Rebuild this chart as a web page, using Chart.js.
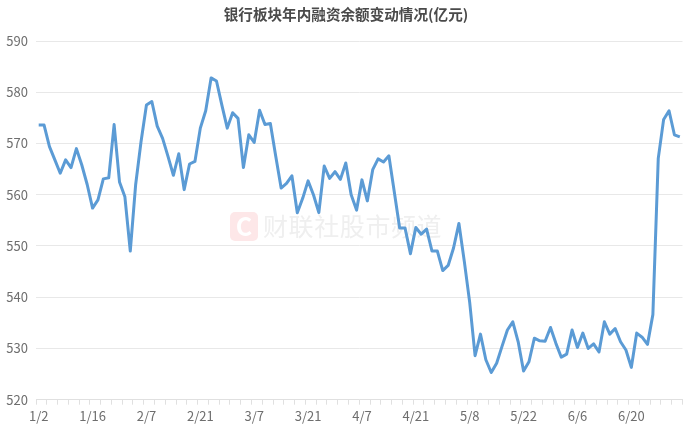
<!DOCTYPE html>
<html lang="zh-CN">
<head>
    <meta charset="UTF-8">
    <title>银行板块年内融资余额变动情况</title>
    <script src="https://cdn.jsdelivr.net/npm/chart.js"></script>
    <style>
        html, body { margin: 0; padding: 0; background: #fff; }
        canvas { display: block; }
    </style>
</head>
<body>
    <canvas id="grafico" width="692" height="429"></canvas>
    <script>
        const titulo = '银行板块年内融资余额变动情况(亿元)'
        const marca = '财联社股市频道'
        const tickLabels = ['1/2', '1/16', '2/7', '2/21', '3/7', '3/21', '4/7', '4/21', '5/8', '5/22', '6/6', '6/20']
        const valores = [
            573.6, 573.6, 569.4, 566.8, 564.2, 566.8, 565.3, 569.0, 565.8, 562.0,
            557.4, 559.0, 563.1, 563.3, 573.7, 562.5, 559.6, 549.0, 562.0, 570.4,
            577.5, 578.2, 573.4, 571.0, 567.5, 563.8, 568.0, 561.0, 566.0, 566.5,
            573.0, 576.4, 582.8, 582.2, 577.5, 573.0, 576.0, 574.9, 565.3, 571.7,
            570.2, 576.5, 573.7, 573.9, 567.5, 561.3, 562.2, 563.7, 556.5, 559.3,
            562.7, 560.0, 556.5, 565.6, 563.2, 564.5, 563.0, 566.2, 560.0, 557.0,
            562.9, 558.8, 564.9, 567.0, 566.4, 567.6, 560.6, 553.5, 553.5, 548.5,
            553.6, 552.3, 553.3, 549.0, 549.0, 545.2, 546.2, 549.6, 554.4, 547.0,
            539.0, 528.6, 532.8, 527.8, 525.3, 527.1, 530.4, 533.6, 535.2, 531.3,
            525.6, 527.4, 532.0, 531.5, 531.4, 534.1, 531.0, 528.3, 528.9, 533.6,
            530.2, 533.0, 530.0, 530.9, 529.3, 535.2, 532.8, 533.9, 531.3, 529.7,
            526.3, 533.0, 532.2, 530.8, 536.6, 567.1, 574.7, 576.4, 571.7, 571.3
        ]
        // only every 10th day is labelled in the picture
        const categorias = valores.map((v, i) => i % 10 === 0 ? tickLabels[i / 10] : '')

        const fonte = '"Noto Sans CJK SC", "Noto Sans", sans-serif'

        const watermark = {
            id: 'watermark',
            // title is centred on the whole canvas, not on the padded area
            afterLayout(chart) {
                chart.titleBlock.right = chart.width
            },
            beforeDatasetsDraw(chart) {
                const c = chart.ctx
                c.save()
                c.fillStyle = '#fde7e8'
                c.beginPath()
                c.roundRect(230, 212, 28, 29, 5)
                c.fill()
                c.fillStyle = '#fff'
                c.font = 'bold 25px ' + fonte
                c.textAlign = 'center'
                c.textBaseline = 'middle'
                c.fillText('C', 244, 226)
                c.fillStyle = '#efefef'
                c.font = '25px ' + fonte
                c.textAlign = 'left'
                c.letterSpacing = '0.6px'
                c.fillText(marca, 263, 226)
                c.restore()
            }
        }

        new Chart(document.getElementById('grafico'), {
            type: 'line',
            data: {
                labels: categorias,
                datasets: [{
                    data: valores,
                    borderColor: '#5b9bd5',
                    borderWidth: 3,
                    pointRadius: 0,
                    tension: 0,
                    borderJoinStyle: 'round'
                }]
            },
            plugins: [watermark],
            options: {
                responsive: false,
                animation: false,
                layout: { padding: { left: 0, right: 9.5, top: 0, bottom: 0 } },
                plugins: {
                    legend: { display: false },
                    tooltip: { enabled: false },
                    title: {
                        display: true,
                        text: titulo,
                        color: '#4a4a4a',
                        font: { family: fonte, size: 14.6, weight: 'bold', lineHeight: 1.2 },
                        padding: { top: 6, bottom: 17.5 }
                    }
                },
                scales: {
                    x: {
                        offset: true,
                        afterFit: s => { s.height = 29.3 },
                        grid: {
                            offset: true,
                            drawOnChartArea: false,
                            tickLength: 5,
                            tickColor: ctx => (ctx.index % 2 === 1 ? 'transparent' : '#e0e0e0')
                        },
                        border: { color: '#e0e0e0' },
                        ticks: {
                            autoSkip: false,
                            maxRotation: 0,
                            color: '#6e6e6e',
                            padding: 4,
                            font: { family: fonte, size: 13 }
                        }
                    },
                    y: {
                        min: 520,
                        max: 590,
                        afterFit: s => { s.width = 36 },
                        grid: { color: '#e8e8e8', drawTicks: false },
                        border: { display: false },
                        ticks: {
                            stepSize: 10,
                            color: '#6e6e6e',
                            padding: 8,
                            font: { family: fonte, size: 13 }
                        }
                    }
                }
            }
        })
    </script>
</body>
</html>
